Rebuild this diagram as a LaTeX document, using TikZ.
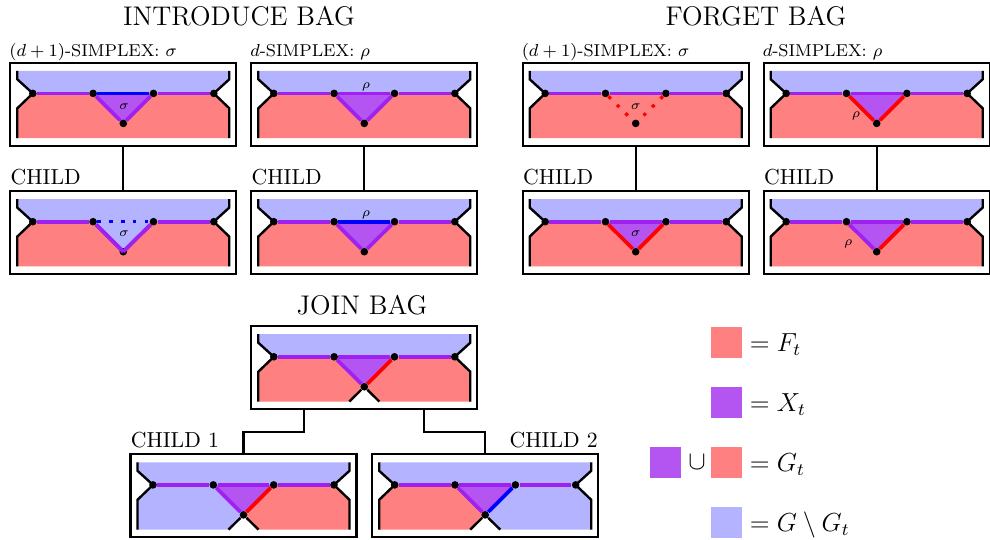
\documentclass[tikz,border=0pt]{standalone}
\usepackage{amsmath}
\usetikzlibrary{positioning}

\definecolor{bagF}{HTML}{FF8080}
\definecolor{bagG}{HTML}{B3B3FF}
\definecolor{bagX}{HTML}{B455F2}
\definecolor{bagP}{HTML}{A020F0}

\tikzset{
    bagframe/.style={draw, line width=1.05pt, outer sep=0pt, minimum width=104pt, minimum height=38.2pt},
    bagwire/.style={draw, line width=1pt},
    bagdot/.style={circle, fill=black, inner sep=0pt, minimum size=3.5pt},
    bagmark/.style={font=\fontsize{6.5}{7}\selectfont, inner sep=0pt},
    bagtitle/.style={font=\fontsize{12.4}{15}\selectfont, inner sep=0pt},
    baglabel/.style={font=\fontsize{7.9}{9}\selectfont, inner sep=0pt, text depth=0pt},
    childlabel/.style={inner sep=0pt, text depth=0pt},
    swatch/.style={minimum size=14.26pt, inner sep=0pt, outer sep=0pt},
    legendtext/.style={font=\large, inner sep=0pt},
    edgeP/.style={line width=1.7pt, bagP},
    edgeB/.style={line width=1.7pt, blue},
    edgeR/.style={line width=1.7pt, red},
    edgeBdot/.style={line width=1.5pt, blue, loosely dotted},
    edgeRdot/.style={line width=1.5pt, red, loosely dotted}
}

% frame, blue part and black border of a bag
\newcommand{\bagframeat}[1]{
    \node[bagframe] (#1) at (0,0) {};
    \fill[bagG] (-106,-33.5) -- (-106,-25) -- (-90.5,-10.9) -- (90.5,-10.9) -- (106,-25) -- (106,-33.5) -- cycle;
}
\newcommand{\bagborder}{
    \draw[line width=1.1pt] (-106,-33.5) -- (-106,-25) -- (-90.5,-10.9) -- (-106,4) -- (-106,33.8);
    \draw[line width=1.1pt] (106,-33.5) -- (106,-25) -- (90.5,-10.9) -- (106,4) -- (106,33.8);
}
% name, centre, triangle fill, top edge, left edge, right edge, mark position, mark
\newcommand{\simplepanel}[8]{
    \begin{scope}[shift={(#2)}]
        \bagframeat{#1}
        \fill[bagF] (-106,33.8) -- (-106,4) -- (-90.5,-10.9) -- (90.5,-10.9) -- (106,4) -- (106,33.8) -- cycle;
        \fill[#3] (-30.2,-10.9) -- (0,19.1) -- (30.2,-10.9) -- cycle;
        \bagborder
        \node[bagdot] (#1a) at (-90.5,-10.9) {};
        \node[bagdot] (#1b) at (-30.2,-10.9) {};
        \node[bagdot] (#1c) at (30.2,-10.9) {};
        \node[bagdot] (#1d) at (90.5,-10.9) {};
        \node[bagdot] (#1e) at (0,19.1) {};
        \draw[edgeP] (#1a) -- (#1b);
        \draw[edgeP] (#1c) -- (#1d);
        \draw[#4] (#1b) -- (#1c);
        \draw[#5] (#1b) -- (#1e);
        \draw[#6] (#1c) -- (#1e);
        \node[bagmark] (#1m) at (#7) {$#8$};
    \end{scope}
}
% name, centre, left fill, right fill, right edge
\newcommand{\joinpanel}[5]{
    \begin{scope}[shift={(#2)}]
        \bagframeat{#1}
        \fill[#3] (-106,33.8) -- (-106,4) -- (-90.5,-10.9) -- (-30.2,-10.9) -- (0,19.1) -- (-15,33.8) -- cycle;
        \fill[#4] (106,33.8) -- (106,4) -- (90.5,-10.9) -- (30.2,-10.9) -- (0,19.1) -- (15,33.8) -- cycle;
        \fill[bagX] (-30.2,-10.9) -- (0,19.1) -- (30.2,-10.9) -- cycle;
        \bagborder
        \node[bagdot] (#1a) at (-90.5,-10.9) {};
        \node[bagdot] (#1b) at (-30.2,-10.9) {};
        \node[bagdot] (#1c) at (30.2,-10.9) {};
        \node[bagdot] (#1d) at (90.5,-10.9) {};
        \node[bagdot] (#1e) at (0,19.1) {};
        \coordinate (#1f) at (-15,33.8);
        \coordinate (#1g) at (15,33.8);
        \draw[edgeP] (#1a) -- (#1b);
        \draw[edgeP] (#1b) -- (#1c);
        \draw[edgeP] (#1c) -- (#1d);
        \draw[edgeP] (#1b) -- (#1e);
        \draw[#5] (#1c) -- (#1e);
        \draw[line width=1.1pt] (#1e) -- (#1f);
        \draw[line width=1.1pt] (#1e) -- (#1g);
    \end{scope}
}

\begin{document}
\begin{tikzpicture}[x=0.46pt, y=-0.46pt]
    \useasboundingbox (0,0) rectangle (990,539);

    % Introduce
    \simplepanel{intro}{123.3,104.3}{bagX}{edgeB}{edgeP}{edgeP}{0.7,2}{\sigma}
    \simplepanel{introchild}{123.3,232.6}{bagG}{edgeBdot}{edgeP}{edgeP}{0.7,1.5}{\sigma}
    \draw[edgeP] (introchildb) -- (introchilde.center);
    \draw[edgeP] (introchildc) -- (introchilde.center);
    \simplepanel{introrho}{364.3,104.3}{bagX}{edgeP}{edgeP}{edgeP}{1.7,-17.2}{\rho}
    \simplepanel{introrhochild}{364.3,232.6}{bagX}{edgeB}{edgeP}{edgeP}{1.7,-18}{\rho}

    % Forget
    \simplepanel{forget}{635.7,104.3}{bagF}{edgeP}{edgeRdot}{edgeRdot}{0,2}{\sigma}
    \simplepanel{forgetchild}{635.7,232.6}{bagX}{edgeP}{edgeR}{edgeR}{0,1.5}{\sigma}
    \simplepanel{forgetrho}{876.7,104.3}{bagX}{edgeP}{edgeR}{edgeR}{-20.7,11.7}{\rho}
    \simplepanel{forgetrhochild}{876.7,232.6}{bagX}{edgeP}{edgeP}{edgeR}{-28.4,11.5}{\rho}

    % Join
    \joinpanel{join}{364.3,367.7}{bagF}{bagF}{edgeR}
    \joinpanel{joinone}{243.5,495.8}{bagG}{bagF}{edgeR}
    \joinpanel{jointwo}{485.2,495.8}{bagF}{bagG}{edgeB}

    \draw[bagwire] (intro.south) -- (introchild.north);
    \draw[bagwire] (introrho.south) -- (introrhochild.north);
    \draw[bagwire] (forget.south) -- (forgetchild.north);
    \draw[bagwire] (forgetrho.south) -- (forgetrhochild.north);
    \coordinate (joinleft) at (304,409.4);
    \coordinate (joinright) at (424.3,409.4);
    \draw[bagwire] (joinleft) -- (304,432.3) -| (joinone.north);
    \draw[bagwire] (joinright) -- (424.3,432.3) -| (jointwo.north);

    % Titles
    \node[bagtitle] (titleintro) at (239,16) {INTRODUCE BAG};
    \node[bagtitle] (titleforget) at (756,16) {FORGET BAG};
    \node[bagtitle] (titlejoin) at (362,305) {JOIN BAG};

    \node[baglabel, above right=2.8pt and -0.6pt of intro.north west] (labelintro) {$(d+1)$-SIMPLEX: $\sigma$};
    \node[baglabel, above right=2.8pt and -0.6pt of introrho.north west] (labelintrorho) {$d$-SIMPLEX: $\rho$};
    \node[baglabel, above right=2.8pt and -0.6pt of forget.north west] (labelforget) {$(d+1)$-SIMPLEX: $\sigma$};
    \node[baglabel, above right=2.8pt and -0.6pt of forgetrho.north west] (labelforgetrho) {$d$-SIMPLEX: $\rho$};
    \node[childlabel, above right=2.8pt and 0pt of introchild.north west] (labelchilda) {CHILD};
    \node[childlabel, above right=2.8pt and 0pt of introrhochild.north west] (labelchildb) {CHILD};
    \node[childlabel, above right=2.8pt and 0pt of forgetchild.north west] (labelchildc) {CHILD};
    \node[childlabel, above right=2.8pt and 0pt of forgetrhochild.north west] (labelchildd) {CHILD};
    \node[childlabel, above right=2.8pt and 0pt of joinone.north west] (labelone) {CHILD 1};
    \node[childlabel, above left=2.8pt and 0pt of jointwo.north east] (labeltwo) {CHILD 2};

    % Legend
    \node[swatch, fill=bagF] (swatchF) at (726.5,342.5) {};
    \node[swatch, fill=bagX] (swatchX) at (726.5,402.5) {};
    \node[swatch, fill=bagF] (swatchU) at (726.5,462.5) {};
    \node[swatch, fill=bagX] (swatchV) at (665.5,462.5) {};
    \node[swatch, fill=bagG] (swatchG) at (726.5,522.5) {};
    \node[legendtext, anchor=base west] (textF) at ([xshift=3.4pt, yshift=-4pt]swatchF.east) {$=F_t$};
    \node[legendtext, anchor=base west] (textX) at ([xshift=3.4pt, yshift=-4pt]swatchX.east) {$=X_t$};
    \node[legendtext, anchor=base west] (textU) at ([xshift=3.4pt, yshift=-4pt]swatchU.east) {$=G_t$};
    \node[legendtext, anchor=base west] (textG) at ([xshift=3.4pt, yshift=-4pt]swatchG.east) {$=G\setminus G_t$};
    \node[legendtext] (textcup) at (697,462.5) {$\cup$};
\end{tikzpicture}
\end{document}
